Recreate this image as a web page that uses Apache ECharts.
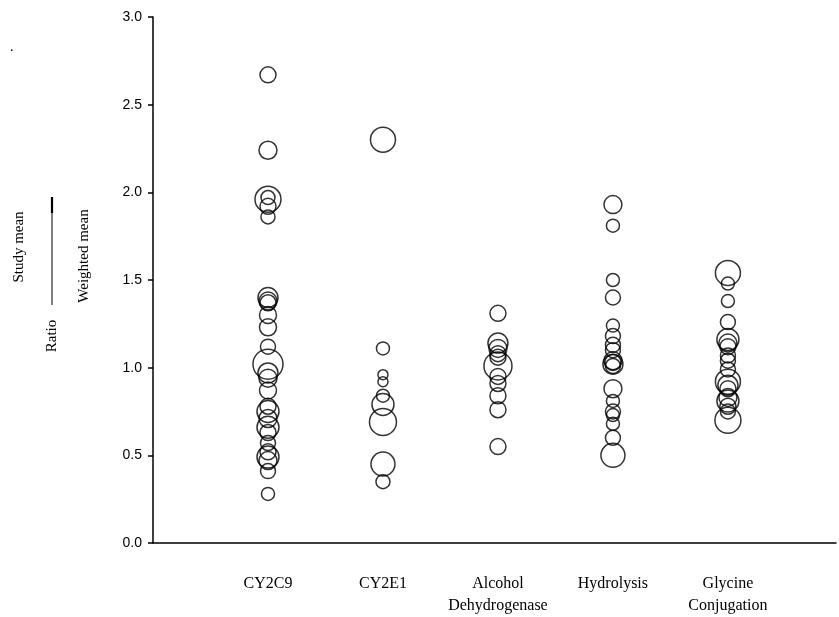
<!DOCTYPE html>
<html>
<head>
<meta charset="utf-8">
<script src="https://cdn.jsdelivr.net/npm/echarts@6/dist/echarts.min.js"></script>
<style>html,body{margin:0;padding:0;background:#fff;}#chart{width:839px;height:617px;}</style>
</head>
<body>
<div id="chart"></div>
<script>
// ---- data ----
const categories = ['CY2C9', 'CY2E1', 'Alcohol\nDehydrogenase', 'Hydrolysis', 'Glycine\nConjugation'];
const yTickLabels = ['0.0', '0.5', '1.0', '1.5', '2.0', '2.5', '3.0'];

// ratio = study mean / weighted mean ; weight = bubble size (study weight)
const cy2c9Ratio  = [2.67, 2.24, 1.96, 1.97, 1.92, 1.86, 1.40, 1.38, 1.37, 1.30, 1.23, 1.12, 1.02, 0.97, 0.94, 0.87, 0.78, 0.75, 0.71, 0.66, 0.63, 0.57, 0.52, 0.49, 0.47, 0.41, 0.28];
const cy2c9Weight = [16,   18,   26,   14,   16,   14,   20,   18,   16,   17,   17,   15,   30,   20,   18,   17,   16,   22,   18,   22,   16,   15,   16,   22,   18,   15,   13];

const cy2e1Ratio  = [2.30, 1.11, 0.96, 0.92, 0.84, 0.79, 0.69, 0.45, 0.35];
const cy2e1Weight = [25,   13,   10,   10,   13,   22,   27,   24,   14];

const adhRatio  = [1.31, 1.14, 1.11, 1.08, 1.06, 1.01, 0.95, 0.91, 0.84, 0.76, 0.55];
const adhWeight = [16,   20,   18,   16,   16,   28,   16,   16,   16,   16,   16];

const hydRatio  = [1.93, 1.81, 1.50, 1.40, 1.24, 1.18, 1.13, 1.10, 1.04, 1.03, 1.02, 1.01, 0.88, 0.81, 0.75, 0.73, 0.68, 0.60, 0.50];
const hydWeight = [18,   13,   13,   15,   13,   15,   15,   15,   18,   16,   20,   15,   18,   13,   15,   13,   13,   15,   24];

const glyRatio  = [1.54, 1.48, 1.38, 1.26, 1.16, 1.14, 1.12, 1.07, 1.04, 0.99, 0.92, 0.90, 0.88, 0.83, 0.81, 0.78, 0.75, 0.70];
const glyWeight = [25,   13,   13,   15,   22,   18,   16,   15,   15,   15,   25,   20,   16,   18,   22,   16,   15,   26];

// ---- build ----
const groups = [
  [cy2c9Ratio, cy2c9Weight],
  [cy2e1Ratio, cy2e1Weight],
  [adhRatio, adhWeight],
  [hydRatio, hydWeight],
  [glyRatio, glyWeight]
];
const points = [];
groups.forEach((g, i) => {
  g[0].forEach((v, j) => points.push([i + 1, v, g[1][j]]));
});

const chart = echarts.init(document.getElementById('chart'));
const serif = '"Liberation Serif", "Times New Roman", serif';
chart.setOption({
  animation: false,
  backgroundColor: '#fff',
  grid: { left: 153, right: 0, top: 17, bottom: 72, containLabel: false },
  xAxis: {
    type: 'value', min: 0, max: 5.94, interval: 1,
    axisLine: { show: true, lineStyle: { color: '#000', width: 1.5 } },
    axisTick: { show: false },
    splitLine: { show: false },
    axisLabel: {
      margin: 30, color: '#000', fontFamily: serif, fontSize: 16, lineHeight: 22,
      verticalAlign: 'top',
      formatter: v => (v >= 1 && v <= 5 && Number.isInteger(v)) ? categories[v - 1] : ''
    }
  },
  yAxis: {
    type: 'value', min: 0, max: 3, interval: 0.5,
    axisLine: { show: true, lineStyle: { color: '#000', width: 1.5 } },
    axisTick: { show: true, length: 5, lineStyle: { color: '#000', width: 1.5 } },
    splitLine: { show: false },
    axisLabel: {
      margin: 11, color: '#000', fontFamily: '"Liberation Sans", Arial, sans-serif', fontSize: 14,
      formatter: v => yTickLabels[Math.round(v * 2)]
    }
  },
  series: [{
    type: 'scatter',
    data: points,
    symbol: 'circle',
    symbolSize: d => d[2],
    itemStyle: { color: 'rgba(0,0,0,0)', borderColor: '#000', borderWidth: 1.5 }
  }],
  graphic: [
    { type: 'text', left: 10, top: 40, style: { text: '.', fill: '#000', font: '14px ' + serif } },
    { type: 'text', x: 19, y: 247, rotation: Math.PI / 2,
      style: { text: 'Study mean', fill: '#000', font: '15px ' + serif, align: 'center', verticalAlign: 'middle' } },
    { type: 'text', x: 52, y: 336, rotation: Math.PI / 2,
      style: { text: 'Ratio', fill: '#000', font: '15px ' + serif, align: 'center', verticalAlign: 'middle' } },
    { type: 'line', shape: { x1: 52, y1: 197, x2: 52, y2: 305 }, style: { stroke: '#000', lineWidth: 1 } },
    { type: 'line', shape: { x1: 52, y1: 197, x2: 52, y2: 213 }, style: { stroke: '#000', lineWidth: 2.2 } },
    { type: 'text', x: 84, y: 256, rotation: Math.PI / 2,
      style: { text: 'Weighted mean', fill: '#000', font: '15px ' + serif, align: 'center', verticalAlign: 'middle' } }
  ]
});
</script>
</body>
</html>
